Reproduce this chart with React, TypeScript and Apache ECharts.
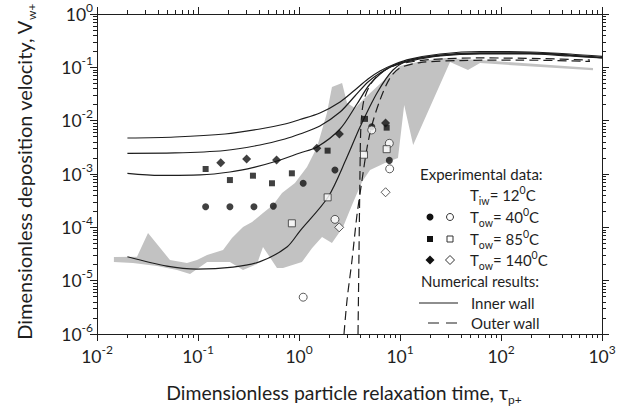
import React, { useEffect, useRef } from 'react';
import * as echarts from 'echarts';

const FONT = "Lato, 'Open Sans', sans-serif";
const INK = '#1e1e1e';
const GREY = '#c2c2c2';

// Axis decades (log10) and minor tick multipliers
const xDecades = [-2, -1, 0, 1, 2, 3];
const yDecades = [-6, -5, -4, -3, -2, -1, 0];
const minorMultipliers = [2, 3, 4, 5, 6, 7, 8, 9];

// Experimental data [tau_p+, V_w+]
const tow40Filled: [number, number][] = [
  [0.119, 2.44e-4], [0.207, 2.44e-4], [0.358, 2.44e-4], [0.557, 2.5e-4],
  [1.1, 6.7e-4], [2.27, 1.19e-3], [5.25, 7.7e-3], [7.84, 1.8e-3],
];
const tow40Open: [number, number][] = [
  [1.1, 4.9e-6], [2.27, 1.41e-4], [5.25, 6.7e-3], [7.84, 3.76e-3], [7.9, 1.25e-3],
];
const tow85Filled: [number, number][] = [
  [0.119, 1.24e-3], [0.207, 7.7e-4], [0.35, 9.3e-4], [0.54, 6.7e-4],
  [0.85, 1.03e-3], [1.92, 2.74e-3], [4.5, 1.08e-2], [7.38, 7.4e-3],
];
const tow85Open: [number, number][] = [
  [0.85, 1.19e-4], [1.92, 3.65e-4], [4.4, 2.3e-3], [7.38, 2.92e-3],
];
const tow140Filled: [number, number][] = [
  [0.168, 1.63e-3], [0.303, 1.91e-3], [0.6, 1.83e-3], [1.5, 3.03e-3], [2.51, 5.6e-3], [7.2, 9.0e-3],
];
const tow140Open: [number, number][] = [
  [2.5, 1.0e-4], [7.2, 4.55e-4],
];

// Numerical results: inner wall (solid)
const innerWallA: [number, number][] = [
  [0.02, 4.73e-3], [0.059, 4.94e-3], [0.185, 5.62e-3], [0.411, 6.98e-3], [0.726, 8.66e-3],
  [1.02, 1.05e-2], [1.61, 1.39e-2], [2.55, 2.24e-2], [3.58, 3.76e-2], [4.82, 6.04e-2],
  [6.34, 8.53e-2], [8.91, 0.1155], [12.6, 0.143], [24.9, 0.178], [62, 0.198],
  [194, 0.194], [482, 0.178], [1000, 0.16],
];
const innerWallB: [number, number][] = [
  [0.02, 2.44e-3], [0.059, 2.48e-3], [0.185, 2.76e-3], [0.411, 3.5e-3], [0.726, 4.53e-3],
  [1.02, 5.62e-3], [1.61, 7.94e-3], [2.55, 1.45e-2], [3.58, 2.9e-2], [4.82, 5.3e-2],
  [6.34, 7.83e-2], [8.91, 0.1106], [12.6, 0.137], [24.9, 0.17], [62, 0.186],
  [194, 0.186], [482, 0.17], [1000, 0.153],
];
const innerWallC: [number, number][] = [
  [0.02, 1.03e-3], [0.042, 9.4e-4], [0.105, 9.6e-4], [0.207, 1.09e-3], [0.366, 1.35e-3],
  [0.605, 1.75e-3], [1.02, 2.48e-3], [1.51, 3.21e-3], [2.55, 6.98e-3], [3.75, 2.05e-2],
  [5.05, 4.87e-2], [7.96, 0.1015], [12.6, 0.131], [24.9, 0.163], [62, 0.178],
  [194, 0.178], [482, 0.163], [1000, 0.15],
];
const innerWallD: [number, number][] = [
  [0.02, 2.81e-5], [0.0493, 1.88e-5], [0.0977, 1.65e-5], [0.222, 1.8e-5], [0.411, 2.27e-5],
  [0.76, 4.28e-5], [1.02, 8.53e-5], [1.94, 3.7e-4], [2.99, 2.08e-3], [4.02, 7.6e-3],
  [5.92, 3.3e-2], [8.53, 8.9e-2], [12.6, 0.137], [24.9, 0.167], [62, 0.182],
  [194, 0.182], [482, 0.167], [1000, 0.15],
];

// Numerical results: outer wall (dashed)
const outerWallE: [number, number][] = [
  [2.79, 1e-6], [2.99, 4.34e-6], [3.35, 2.44e-5], [3.75, 1.7e-4], [4.21, 7.71e-4],
  [4.71, 3.07e-3], [5.28, 8.3e-3], [6.34, 2.44e-2], [7.96, 6.3e-2], [10, 9.72e-2],
  [15.8, 0.123], [39.3, 0.134], [154, 0.137], [760, 0.129],
];
const outerWallF: [number, number][] = [
  [3.84, 1e-6], [3.93, 3.76e-5], [4.02, 1.19e-3], [4.11, 8.3e-3], [4.4, 2.44e-2],
  [5.28, 5.3e-2], [7.1, 8.9e-2], [10, 0.1155], [19.8, 0.14], [62, 0.15],
  [243, 0.146], [760, 0.137],
];

// Grey band of other experimental data (polygon outline)
const greyBand: [number, number][] = [
  [0.0147, 2.78e-5], [0.0249, 2.81e-5], [0.032, 7.8e-5], [0.0528, 2.44e-5], [0.0778, 2.14e-5],
  [0.0977, 2.44e-5], [0.123, 3.03e-5], [0.177, 3.76e-5], [0.217, 6.3e-5], [0.279, 1.01e-4],
  [0.343, 1.26e-4], [0.44, 1.86e-4], [0.553, 2.62e-4], [0.679, 4.4e-4], [0.912, 6.8e-4],
  [1.2, 1.35e-3], [1.51, 3.2e-3], [1.89, 1.39e-2], [2.12, 4.28e-2], [2.67, 5.08e-2],
  [2.99, 2.14e-2], [3.58, 1.73e-2], [4.71, 2.9e-2], [6.64, 5.3e-2], [10, 0.106],
  [16.5, 0.131], [27.9, 0.15], [62, 0.137], [815, 0.097], [815, 0.088],
  [62, 0.12], [47.1, 0.0891], [31.3, 0.126], [13.5, 3.5e-3], [11, 1.97e-2],
  [9.55, 2.0e-3], [7.1, 1.61e-3], [5.05, 1.19e-3], [4.2, 7.1e-4], [3.35, 2.62e-4],
  [2.73, 1.01e-4], [2.12, 5.1e-5], [1.69, 6.6e-5], [1.35, 4.1e-5], [1.07, 2.24e-5],
  [0.695, 1.73e-5], [0.605, 1.73e-5], [0.44, 4.3e-5], [0.384, 2.05e-5], [0.279, 1.58e-5],
  [0.207, 2.24e-5], [0.123, 2.24e-5], [0.0834, 1.33e-5], [0.062, 1.58e-5], [0.0393, 1.88e-5],
  [0.0227, 2.14e-5], [0.0147, 2.24e-5],
];

const minorOf = (decades: number[]) => {
  const out: number[] = [];
  for (let i = 0; i < decades.length - 1; i++) {
    for (const m of minorMultipliers) out.push(decades[i] + Math.log10(m));
  }
  return out;
};

const powLabel = (v: number) => `{b|10}{s|${Math.round(Math.log10(v))}}`;
const labelRich = {
  b: { fontSize: 17.5, fontFamily: FONT, color: INK, lineHeight: 26 },
  s: { fontSize: 12, fontFamily: FONT, color: INK, verticalAlign: 'top', lineHeight: 13 },
};
const axLine = { show: true, onZero: false, lineStyle: { color: INK, width: 1 } };
const tickStyle = { color: INK, width: 1 };

function auxAxis(pos: string, min: number, max: number, values: number[], len: number, line: boolean) {
  return {
    type: 'value', position: pos, min, max, gridIndex: 0,
    axisLine: line ? axLine : { show: false, onZero: false },
    axisTick: { show: true, inside: false, length: len, customValues: values, lineStyle: tickStyle },
    axisLabel: { show: false }, splitLine: { show: false },
  };
}

export default function App() {
  const ref = useRef<HTMLDivElement>(null);
  useEffect(() => {
    if (!ref.current) return;
    const chart = echarts.init(ref.current, null, { renderer: 'svg' });
    const lineSeries = (data: [number, number][], dashed: boolean) => ({
      type: 'line', data, showSymbol: false, smooth: 0.3, z: 3, silent: true,
      lineStyle: { color: INK, width: 1.2, type: dashed ? [9, 5] : 'solid' },
    });
    const scat = (data: [number, number][], symbol: string, size: number, filled: boolean) => ({
      type: 'scatter', data, symbol, symbolSize: size, z: 5, silent: true,
      itemStyle: filled ? { color: '#111', borderWidth: 0 } : { color: '#fff', borderColor: '#333', borderWidth: 1 },
    });
    const txt = (x: number, y: number, text: string, size = 15) => ({
      type: 'text', x, y,
      style: {
        text, fontSize: size, fontFamily: FONT, fill: INK, align: 'left', verticalAlign: 'middle', lineHeight: 22,
        rich: {
          sub: { fontSize: 10.5, fontFamily: FONT, fill: INK, verticalAlign: 'bottom', lineHeight: 12 },
          sup: { fontSize: 10.5, fontFamily: FONT, fill: INK, verticalAlign: 'top', lineHeight: 12 },
        },
      },
    });
    const option: any = {
      animation: false,
      backgroundColor: '#fff',
      grid: { left: 97, right: 36, top: 14, bottom: 78, containLabel: false },
      xAxis: [
        {
          type: 'log', logBase: 10, min: 0.01, max: 1000, position: 'bottom',
          axisLine: axLine,
          axisTick: { show: true, inside: false, length: 7, lineStyle: tickStyle },
          axisLabel: { formatter: powLabel, rich: labelRich, margin: 9 },
          splitLine: { show: false }, minorTick: { show: false },
        },
        auxAxis('bottom', -2, 3, minorOf(xDecades), 4, false),
        auxAxis('top', -2, 3, xDecades, 7, true),
        auxAxis('top', -2, 3, minorOf(xDecades), 4, false),
      ],
      yAxis: [
        {
          type: 'log', logBase: 10, min: 1e-6, max: 1, position: 'left',
          axisLine: axLine,
          axisTick: { show: true, inside: false, length: 7, lineStyle: tickStyle },
          axisLabel: { formatter: powLabel, rich: labelRich, margin: 4 },
          splitLine: { show: false }, minorTick: { show: false },
        },
        auxAxis('left', -6, 0, minorOf(yDecades), 4, false),
        auxAxis('right', -6, 0, yDecades, 7, true),
        auxAxis('right', -6, 0, minorOf(yDecades), 4, false),
      ],
      series: [
        {
          type: 'custom', z: 1, silent: true, clip: true,
          data: [greyBand[0]],
          renderItem: (_p: any, api: any) => ({
            type: 'polygon',
            shape: { points: greyBand.map((pt) => api.coord(pt)) },
            style: { fill: GREY, stroke: null },
          }),
        },
        lineSeries(innerWallA, false),
        lineSeries(innerWallB, false),
        lineSeries(innerWallC, false),
        lineSeries(innerWallD, false),
        lineSeries(outerWallE, true),
        lineSeries(outerWallF, true),
        scat(tow40Filled, 'circle', 7, true),
        scat(tow40Open, 'circle', 8, false),
        scat(tow85Filled, 'rect', 6, true),
        scat(tow85Open, 'rect', 7, false),
        scat(tow140Filled, 'diamond', 9, true),
        scat(tow140Open, 'diamond', 9, false),
      ],
      graphic: [
        {
          type: 'text', x: 24, y: 172, rotation: Math.PI / 2,
          style: {
            text: 'Dimensionless deposition velocity, V{sub|w+}', fontSize: 20, fontFamily: FONT, fill: INK,
            align: 'center', verticalAlign: 'middle', lineHeight: 26,
            rich: { sub: { fontSize: 12, fontFamily: FONT, fill: INK, verticalAlign: 'bottom', lineHeight: 13 } },
          },
        },
        {
          type: 'text', x: 344, y: 392,
          style: {
            text: 'Dimensionless particle relaxation time, \u03c4{sub|p+}', fontSize: 19.4, fontFamily: FONT, fill: INK,
            align: 'center', verticalAlign: 'middle', lineHeight: 26,
            rich: { sub: { fontSize: 12, fontFamily: FONT, fill: INK, verticalAlign: 'bottom', lineHeight: 13 } },
          },
        },
        txt(420, 174, 'Experimental data:'),
        txt(470, 195, 'T{sub|iw}= 12{sup|0}C'),
        txt(470, 217, 'T{sub|ow}= 40{sup|0}C'),
        txt(470, 239, 'T{sub|ow}= 85{sup|0}C'),
        txt(470, 260, 'T{sub|ow}= 140{sup|0}C'),
        txt(421, 281, 'Numerical results:'),
        txt(471, 303, 'Inner wall'),
        txt(471, 323, 'Outer wall'),
        { type: 'circle', shape: { cx: 430, cy: 217, r: 3.5 }, style: { fill: '#111' } },
        { type: 'circle', shape: { cx: 450, cy: 217, r: 3.5 }, style: { fill: '#fff', stroke: '#333', lineWidth: 1 } },
        { type: 'rect', shape: { x: 427, y: 236, width: 6, height: 6 }, style: { fill: '#111' } },
        { type: 'rect', shape: { x: 447, y: 236, width: 6, height: 6 }, style: { fill: '#fff', stroke: '#333', lineWidth: 1 } },
        { type: 'polygon', shape: { points: [[430, 255.5], [434.5, 260], [430, 264.5], [425.5, 260]] }, style: { fill: '#111' } },
        { type: 'polygon', shape: { points: [[450, 255.5], [454.5, 260], [450, 264.5], [445.5, 260]] }, style: { fill: '#fff', stroke: '#333', lineWidth: 1 } },
        { type: 'line', shape: { x1: 419, y1: 303, x2: 458, y2: 303 }, style: { stroke: INK, lineWidth: 1.2 } },
        { type: 'line', shape: { x1: 428, y1: 323, x2: 458, y2: 323 }, style: { stroke: INK, lineWidth: 1.2, lineDash: [11, 7] } },
      ],
    };
    chart.setOption(option);
    return () => chart.dispose();
  }, []);
  return <div ref={ref} style={{ width: 638, height: 412, position: 'absolute', left: 0, top: 0 }} />;
}
